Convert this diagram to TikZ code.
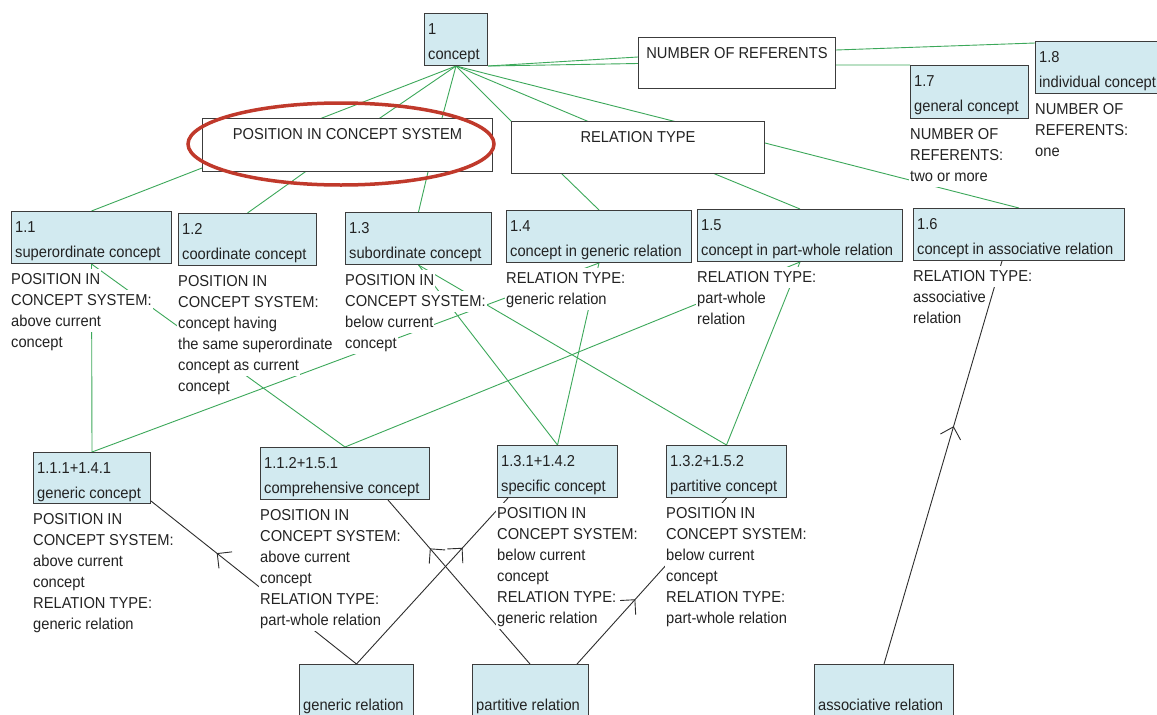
\documentclass[tikz,border=0pt]{standalone}
\usepackage{fontspec}
\setmainfont{Liberation Sans}[FakeStretch=0.93]
\usetikzlibrary{calc,arrows.meta,decorations.markings}
\definecolor{boxfill}{RGB}{210,234,240}
\definecolor{boxline}{RGB}{60,60,60}
\definecolor{gline}{RGB}{60,168,90}
\definecolor{kline}{RGB}{45,45,45}
\definecolor{txt}{RGB}{35,35,35}
\definecolor{ringred}{RGB}{192,57,43}
\pgfdeclarelayer{bg}
\pgfsetlayers{bg,main}
\tikzset{
  cbox/.style={draw=boxline, fill=boxfill, line width=1pt, inner sep=0pt, anchor=north west},
  hbox/.style={draw=boxline, fill=white, line width=1pt, inner sep=0pt, anchor=north west},
  tx/.style={inner sep=0pt, text=txt, font=\fontsize{15.8}{18}\selectfont, anchor=base west},
  lbl/.style={tx, fill=white, inner xsep=1pt, inner ysep=0pt, text height=15.5pt, text depth=5.5pt},
  gl/.style={draw=gline, line width=0.9pt},
  kl/.style={draw=kline, line width=0.9pt},
  midarrow/.style={postaction={decorate}, decoration={markings, mark=at position #1 with {\arrow{Straight Barb[length=10.5pt,width=21pt,line width=0.9pt]}}}},
}
% concept box: name, x, y, width, height, first line, second line
\newcommand\cb[7]{%
  \node[cbox, minimum width=#4pt, minimum height=#5pt] (#1) at (#2,#3) {};
  \node[tx] (#1-a) at ($(#1.north west)+(4,21)$) {#6};
  \node[tx] (#1-b) at ($(#1.north west)+(4,46)$) {#7};
}
% label lines under a box
\newcommand\lb[2]{%
  \foreach \s [count=\i] in {#2} {
    \node[lbl] (#1-l\i) at ($(#1.south west)+(-1,{20.5+21*(\i-1)})$) {\s};
  }
}
\begin{document}
\begin{tikzpicture}[x=1pt,y=-1pt]
\useasboundingbox (0,0) rectangle (1157,715);
\clip (0,0) rectangle (1157,715);
\begin{pgfonlayer}{bg}
\fill[white] (0,0) rectangle (1157,715);
\end{pgfonlayer}

% header boxes
\node[hbox, minimum width=197pt, minimum height=51pt] (nor) at (638,37) {};
\node[tx, anchor=base] (nor-t) at ($(nor.north)+(0,21)$) {NUMBER OF REFERENTS};
\node[hbox, minimum width=290pt, minimum height=53pt] (pos) at (202,118) {};
\node[tx, anchor=base] (pos-t) at ($(pos.north)+(0,21)$) {POSITION IN CONCEPT SYSTEM};
\node[hbox, minimum width=253pt, minimum height=52pt] (rel) at (511,121) {};
\node[tx, anchor=base] (rel-t) at ($(rel.north)+(0,21)$) {RELATION TYPE};

% concept boxes
\cb{c1}{424}{13}{63}{52}{1}{concept}
\cb{b18}{1035}{41}{127}{52}{1.8}{individual concept}
\cb{b17}{910}{65}{118}{53}{1.7}{general concept}
\cb{b11}{11}{211}{160}{52}{1.1}{superordinate concept}
\cb{b12}{178}{213}{138}{52}{1.2}{coordinate concept}
\cb{b13}{345}{212}{146}{52}{1.3}{subordinate concept}
\cb{b14}{506}{210}{185}{52}{1.4}{concept in generic relation}
\cb{b15}{697}{209}{205}{52}{1.5}{concept in part-whole relation}
\cb{b16}{913}{208}{211}{52}{1.6}{concept in associative relation}
\cb{b111}{33}{452}{117}{51}{1.1.1+1.4.1}{generic concept}
\cb{b112}{260}{447}{169}{52}{1.1.2+1.5.1}{comprehensive concept}
\cb{b131}{497}{445}{120}{52}{1.3.1+1.4.2}{specific concept}
\cb{b132}{666}{445}{120}{52}{1.3.2+1.5.2}{partitive concept}
\cb{rgen}{299}{664}{114}{52}{}{generic relation}
\cb{rpart}{472}{664}{116}{52}{}{partitive relation}
\cb{rassoc}{814}{664}{139}{52}{}{associative relation}

% labels
\lb{b11}{POSITION IN,CONCEPT SYSTEM:,above current,concept}
\lb{b12}{POSITION IN,CONCEPT SYSTEM:,concept having,the same superordinate,concept as current,concept}
\lb{b13}{POSITION IN,CONCEPT SYSTEM:,below current,concept}
\lb{b14}{RELATION TYPE:,generic relation}
\lb{b15}{RELATION TYPE:,part-whole,relation}
\lb{b16}{RELATION TYPE:,associative,relation}
\lb{b17}{NUMBER OF,REFERENTS:,two or more}
\lb{b18}{NUMBER OF,REFERENTS:,one}
\lb{b111}{POSITION IN,CONCEPT SYSTEM:,above current,concept,RELATION TYPE:,generic relation}
\lb{b112}{POSITION IN,CONCEPT SYSTEM:,above current,concept,RELATION TYPE:,part-whole relation}
\lb{b131}{POSITION IN,CONCEPT SYSTEM:,below current,concept,RELATION TYPE:,generic relation}
\lb{b132}{POSITION IN,CONCEPT SYSTEM:,below current,concept,RELATION TYPE:,part-whole relation}

\begin{pgfonlayer}{bg}
% concept -> characteristic boxes -> children
\draw[gl] (c1.south) -- ($(pos.north west)+(120,0)$) -- ($(pos.south west)+(0,-4)$) -- (b11.north);
\draw[gl] (c1.south) -- ($(pos.north west)+(178,0)$) -- ($(pos.south west)+(103,0)$) -- (b12.north);
\draw[gl] (c1.south) -- ($(pos.north west)+(240,0)$) -- ($(pos.south west)+(226,0)$) -- (b13.north);
\draw[gl] (c1.south) -- (rel.north west) -- ($(rel.south west)+(51,0)$) -- (b14.north);
\draw[gl] (c1.south) -- ($(rel.north west)+(76,0)$) -- ($(rel.south west)+(204,0)$) -- (b15.north);
\draw[gl] (c1.south) -- ($(rel.north west)+(162,0)$) -- ($(rel.north east)+(0,22)$) -- (b16.north);
\draw[gl] (c1.south east) -- ($(nor.north west)+(0,20)$) -- ($(nor.north east)+(0,13)$) -- ($(b18.north west)+(0,2)$);
\draw[gl] (c1.south east) -- ($(nor.north west)+(0,26.5)$) -- ($(nor.north east)+(0,28)$) -- (b17.north west);
% level 2 -> level 3
\draw[gl] (b11.south) -- (b111.north);
\draw[gl] (b11.south) -- (b112.north);
\draw[gl] (b14.south) -- (b111.north);
\draw[gl] (b14.south) -- (b131.north);
\draw[gl] (b13.south) -- (b131.north);
\draw[gl] (b13.south) -- (b132.north);
\draw[gl] (b15.south) -- (b132.north);
\draw[gl] (b15.south) -- (b112.north);
% relation boxes -> concepts
\draw[kl, midarrow=0.68] (rgen.north) -- ($(b111.south east)+(0,-3)$);
\draw[kl, midarrow=0.70] (rgen.north) -- ($(b131.south west)+(11,0)$);
\draw[kl, midarrow=0.705] ($(rpart.north west)+(58,0)$) -- ($(b112.south west)+(128,0)$);
\draw[kl, midarrow=0.39] ($(rpart.north west)+(105,0)$) -- (b132.south);
\draw[kl, midarrow=0.59] (rassoc.north) -- ($(b16.south west)+(89,0)$);
\end{pgfonlayer}

% red ring
\draw[ringred, line width=3.5pt] (341,144) ellipse [x radius=153, y radius=41];
\end{tikzpicture}
\end{document}
